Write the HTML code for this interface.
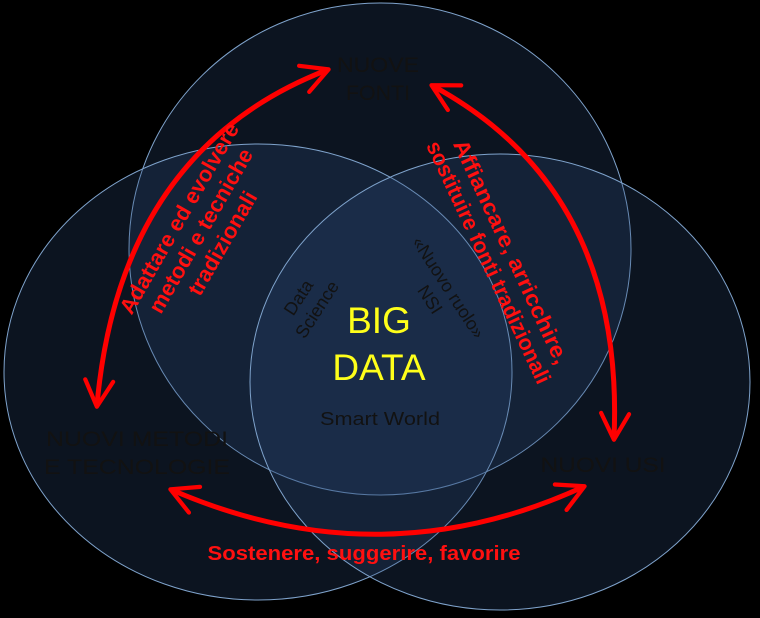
<!DOCTYPE html>
<html><head><meta charset="utf-8"><style>
html,body{margin:0;padding:0;background:#000;}
svg{display:block;}
.lab{font-family:"Liberation Sans",sans-serif;fill:#121212;}
.red{font-family:"Liberation Sans",sans-serif;fill:#ff1010;font-weight:bold;}
</style></head><body>
<svg width="760" height="618" viewBox="0 0 760 618" xmlns="http://www.w3.org/2000/svg">
<defs>
<marker id="ah" viewBox="0 0 10 10" refX="8" refY="5" markerWidth="7" markerHeight="7" orient="auto-start-reverse" markerUnits="strokeWidth">
<path d="M1,1 L8.5,5 L1,9" fill="none" stroke="#ff0000" stroke-width="1.2" stroke-linecap="round" stroke-linejoin="round"/>
</marker>
</defs>
<rect width="760" height="618" fill="#000"/>
<g fill="rgba(45,75,120,0.27)" stroke="#7fa3cc" stroke-width="1">
<ellipse cx="380" cy="249" rx="251" ry="246"/>
<ellipse cx="258" cy="372" rx="254" ry="228"/>
<ellipse cx="500" cy="382" rx="250" ry="228"/>
</g>
<g fill="none" stroke="#ff0000" stroke-width="5" stroke-linecap="round">
<path d="M327,70 Q120,150 97,405" marker-start="url(#ah)" marker-end="url(#ah)"/>
<path d="M433,86 Q625,190 614,438" marker-start="url(#ah)" marker-end="url(#ah)"/>
<path d="M172,490 Q380,580 583,487" marker-start="url(#ah)" marker-end="url(#ah)"/>
</g>
<g class="lab" font-size="21" text-anchor="middle">
<text x="378" y="72" textLength="82" lengthAdjust="spacingAndGlyphs">NUOVE</text>
<text x="378" y="100" textLength="64" lengthAdjust="spacingAndGlyphs">FONTI</text>
<text x="137" y="446" textLength="182" lengthAdjust="spacingAndGlyphs">NUOVI METODI</text>
<text x="137" y="474" textLength="186" lengthAdjust="spacingAndGlyphs">E TECNOLOGIE</text>
<text x="603" y="472" textLength="125" lengthAdjust="spacingAndGlyphs">NUOVI USI</text>
<text x="380" y="425" font-size="18" textLength="120" lengthAdjust="spacingAndGlyphs">Smart World</text>
</g>
<g class="lab" font-size="18" text-anchor="middle">
<g transform="translate(307,303) rotate(-57)">
<text x="0" y="-4">Data</text><text x="0" y="18">Science</text>
</g>
<g transform="translate(440,293) rotate(57)">
<text x="0" y="-4">«Nuovo ruolo»</text><text x="0" y="18">NSI</text>
</g>
</g>
<g font-family="Liberation Sans,sans-serif" fill="#ffff1a" font-size="37" text-anchor="middle">
<text x="379" y="333">BIG</text>
<text x="379" y="380">DATA</text>
</g>
<g class="red" font-size="22" text-anchor="middle">
<g transform="translate(203,232) rotate(-60)">
<text x="0" y="-20">Adattare ed evolvere</text>
<text x="0" y="5">metodi e tecniche</text>
<text x="0" y="30">tradizionali</text>
</g>
<g transform="translate(500,257) rotate(65)">
<text x="0" y="-5" textLength="245" lengthAdjust="spacingAndGlyphs">Affiancare, arricchire,</text>
<text x="0" y="20" textLength="265" lengthAdjust="spacingAndGlyphs">sostituire fonti tradizionali</text>
</g>
<text x="364" y="560" font-size="20" textLength="313" lengthAdjust="spacingAndGlyphs">Sostenere, suggerire, favorire</text>
</g>
</svg>
</body></html>
